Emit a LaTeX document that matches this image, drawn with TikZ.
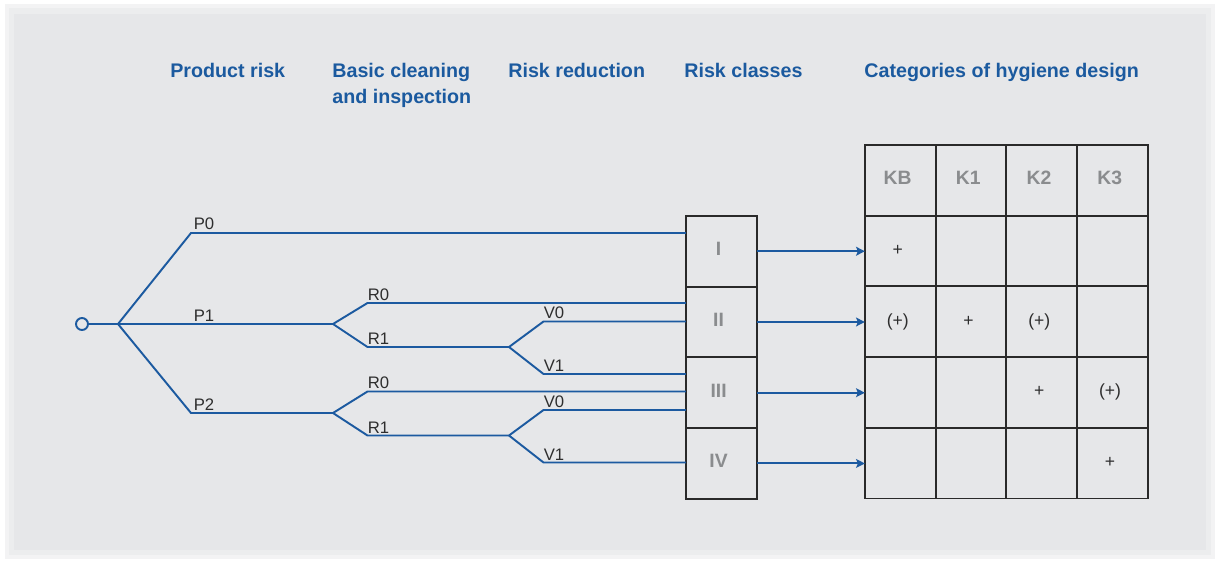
\documentclass[tikz,border=0pt]{standalone}
\usepackage{fontspec}
\setmainfont{Liberation Sans}
\usetikzlibrary{positioning,matrix,arrows.meta}
\definecolor{hdblue}{HTML}{1B5A9F}
\definecolor{lineblue}{HTML}{1C5AA0}
\definecolor{numgray}{HTML}{8A8C8E}
\definecolor{labelgray}{HTML}{2E2E2E}
\definecolor{boxgray}{HTML}{2A2A2A}
\definecolor{panel}{HTML}{E6E7E9}
\definecolor{panelA}{HTML}{F3F3F4}
\definecolor{panelB}{HTML}{ECEDEE}

\begin{document}
\begin{tikzpicture}[x=0.02cm,y=-0.02cm,
    branch/.style={lineblue,line width=1.1pt},
    branchlabel/.style={font=\fontsize{9.5}{11}\selectfont,text=labelgray,inner sep=0pt},
    heading/.style={font=\fontsize{11.2}{14.8}\selectfont\bfseries,text=hdblue,
        anchor=north west,align=left,inner sep=0pt},
    classarrow/.style={-{Stealth[length=5pt,width=5pt,inset=1pt]},lineblue,line width=1.1pt},
    startdot/.style={circle,draw=lineblue,line width=1.1pt,minimum size=0.24cm,inner sep=0pt}]
    \useasboundingbox (0,0) rectangle (1219,561);
    %%%%% BACKGROUND
    \fill[white] (0,0) rectangle (1219,561);
    \fill[panelA] (5,4) rectangle (1215,559);
    \fill[panelB] (9,8) rectangle (1211,555);
    \fill[panel] (14,14) rectangle (1206,550);
    %%%%% HEADINGS
    \node[heading] (hprod) at (170,63) {Product risk};
    \node[heading] (hclean) at (332,63) {Basic cleaning\\and inspection};
    \node[heading] (hred) at (508,63) {Risk reduction};
    \node[heading] (hclass) at (684,63) {Risk classes};
    \node[heading] (hcat) at (864,63) {Categories of hygiene design};
    %%%%% THE RISK CLASSES
    \matrix (CLASSES) [matrix of nodes, anchor=north west, inner sep=0pt, outer sep=0pt,
        row sep=-1pt, column sep=-1pt,
        nodes={draw=boxgray, line width=1pt, anchor=center, align=center,
            minimum width=1.415cm, minimum height=1.415cm, inner sep=0pt,
            text height=0.75em, text depth=0.25em,
            font=\fontsize{11}{13}\selectfont\bfseries, text=numgray}]
        at (685,215) {
        I   \\
        II  \\
        III \\
        IV  \\
    };
    %%%%% THE TABLE
    \matrix (TABLE) [matrix of nodes, anchor=north west, nodes in empty cells,
        inner sep=0pt, outer sep=0pt,
        row sep=-1pt, column sep=-1pt,
        nodes={draw=boxgray, line width=1pt, anchor=center, align=center,
            minimum width=1.415cm, minimum height=1.415cm, inner sep=0pt,
            text height=0.75em, text depth=0.25em,
            font=\fontsize{10}{12}\selectfont, text=labelgray},
        row 1/.style={nodes={font=\fontsize{11}{13}\selectfont\bfseries, text=numgray}}]
        at (864,144) {
        KB  & K1 & K2  & K3  \\
        +   &    &     &     \\
        (+) & +  & (+) &     \\
            &    & +   & (+) \\
            &    &     & +   \\
    };
    %%%%% THE TREE
    \node[startdot] (start) at (82,324) {};
    \coordinate (root) at (118,324);
    \coordinate (p0) at (191,233);
    \coordinate (p1) at (191,324);
    \coordinate (p1s) at (333,324);
    \coordinate (p2) at (191,413);
    \coordinate (p2s) at (333,413);
    % upper branch
    \coordinate (r0a) at (367.5,303);
    \coordinate (r1a) at (367.5,347);
    \coordinate (r1as) at (509,347);
    \coordinate (v0a) at (543.5,321.5);
    \coordinate (v1a) at (543.5,374);
    % lower branch
    \coordinate (r0b) at (367.5,391.5);
    \coordinate (r1b) at (367.5,435.5);
    \coordinate (r1bs) at (509,435.5);
    \coordinate (v0b) at (543.5,410);
    \coordinate (v1b) at (543.5,462.5);
    \draw[branch] (start) -- (root) -- (p0) -- (p0 -| CLASSES-1-1.west);
    \draw[branch] (root) -- (p1) -- (p1s);
    \draw[branch] (root) -- (p2) -- (p2s);
    \draw[branch] (p1s) -- (r0a) -- (r0a -| CLASSES-1-1.west);
    \draw[branch] (p1s) -- (r1a) -- (r1as) -- (v0a) -- (v0a -| CLASSES-1-1.west);
    \draw[branch] (r1as) -- (v1a) -- (v1a -| CLASSES-1-1.west);
    \draw[branch] (p2s) -- (r0b) -- (r0b -| CLASSES-1-1.west);
    \draw[branch] (p2s) -- (r1b) -- (r1bs) -- (v0b) -- (v0b -| CLASSES-1-1.west);
    \draw[branch] (r1bs) -- (v1b) -- (v1b -| CLASSES-1-1.west);
    % branch labels
    \node[branchlabel, above right=0.05cm and 0.05cm of p0] (lp0) {P0};
    \node[branchlabel, above right=0.05cm and 0.05cm of p1] (lp1) {P1};
    \node[branchlabel, above right=0.05cm and 0.05cm of p2] (lp2) {P2};
    \node[branchlabel, above right=0.04cm and 0cm of r0a] (lr0a) {R0};
    \node[branchlabel, above right=0.04cm and 0cm of r1a] (lr1a) {R1};
    \node[branchlabel, above right=0.04cm and 0cm of v0a] (lv0a) {V0};
    \node[branchlabel, above right=0.04cm and 0cm of v1a] (lv1a) {V1};
    \node[branchlabel, above right=0.04cm and 0cm of r0b] (lr0b) {R0};
    \node[branchlabel, above right=0.04cm and 0cm of r1b] (lr1b) {R1};
    \node[branchlabel, above right=0.04cm and 0cm of v0b] (lv0b) {V0};
    \node[branchlabel, above right=0.04cm and 0cm of v1b] (lv1b) {V1};
    %%%% LINKS FROM THE CLASSES TO THE TABLE
    \foreach \r [evaluate=\r as \t using int(\r+1)] in {1,...,4}
        \draw[classarrow] (CLASSES-\r-1.east) -- (CLASSES-\r-1.east -| TABLE-\t-1.west);
\end{tikzpicture}
\end{document}
